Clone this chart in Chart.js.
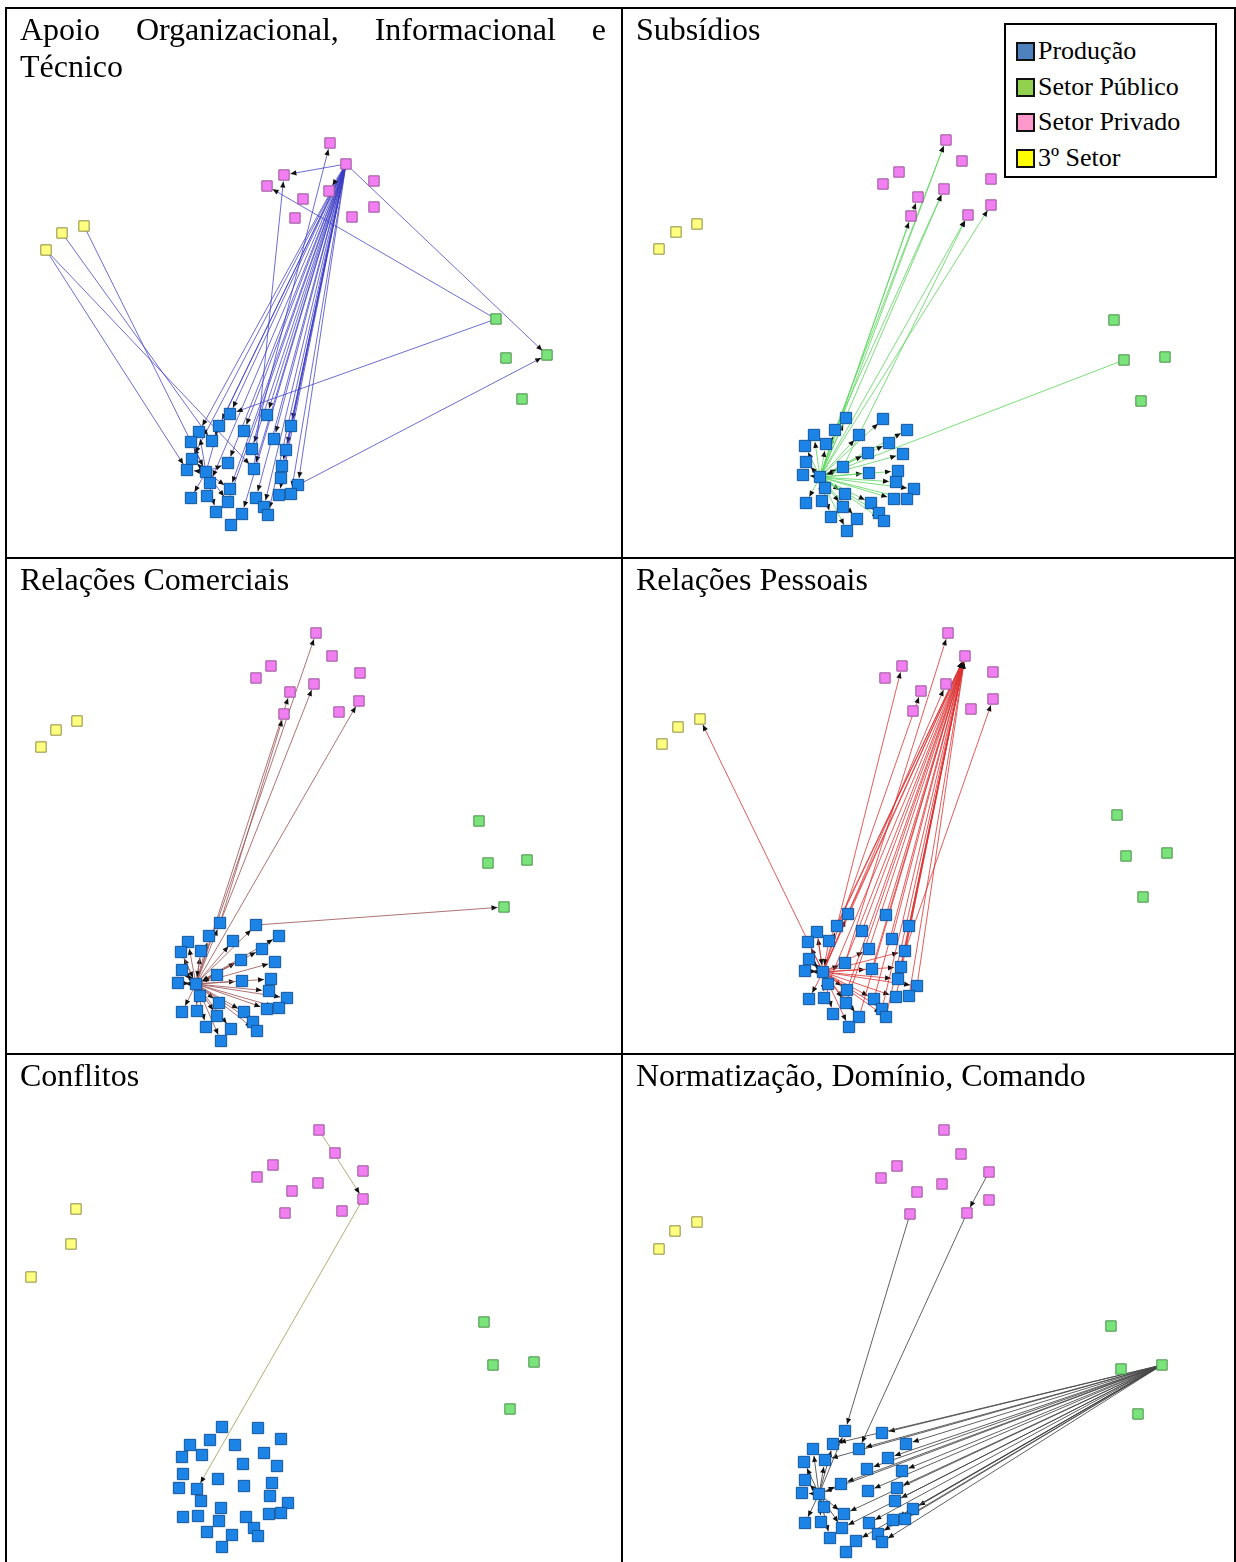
<!DOCTYPE html>
<html lang="pt">
<head>
<meta charset="UTF-8">
<title>Redes por tipo de relação</title>
<script src="https://cdn.jsdelivr.net/npm/chart.js"></script>
<style>
  body { margin: 0; background: #fff; font-family: 'Liberation Serif', 'Times New Roman', serif; }
  #pagina { position: relative; width: 1236px; height: 1562px; overflow: hidden; }
  .linha { position: absolute; background: #000; z-index: 3; }
  .celula { position: absolute; }
  .celula canvas { position: absolute; left: 0; top: 0; }
  .titulo {
    position: absolute; left: 13px; right: 15px; top: 2px; z-index: 2;
    font-size: 32px; line-height: 37px; color: #000; text-align: justify;
  }
  #legenda {
    position: absolute; left: 1004px; top: 23px; width: 209px; height: 151px;
    border: 2px solid #000; background: #fff; z-index: 4; font-size: 26px;
  }
  #legenda .item { position: absolute; left: 10px; height: 30px; display: flex; align-items: center; }
  #legenda .cor { width: 15px; height: 15px; border: 2px solid #111; margin-right: 3px; }
</style>
</head>
<body>
<div id="pagina">
  <div class="linha" style="left:5px;top:7px;width:1231px;height:2px"></div>
  <div class="linha" style="left:5px;top:7px;width:2px;height:1555px"></div>
  <div class="linha" style="left:621px;top:7px;width:2px;height:1555px"></div>
  <div class="linha" style="left:1234px;top:7px;width:2px;height:1555px"></div>
  <div class="linha" style="left:5px;top:557px;width:1231px;height:2px"></div>
  <div class="linha" style="left:5px;top:1053px;width:1231px;height:2px"></div>

  <div class="celula" style="left:7px;top:9px;width:614px;height:548px">
    <div class="titulo">Apoio Organizacional, Informacional e Técnico</div>
    <canvas id="g1" width="614" height="548"></canvas>
  </div>
  <div class="celula" style="left:623px;top:9px;width:611px;height:548px">
    <div class="titulo">Subsídios</div>
    <canvas id="g2" width="611" height="548"></canvas>
  </div>
  <div class="celula" style="left:7px;top:559px;width:614px;height:494px">
    <div class="titulo">Relações Comerciais</div>
    <canvas id="g3" width="614" height="494"></canvas>
  </div>
  <div class="celula" style="left:623px;top:559px;width:611px;height:494px">
    <div class="titulo">Relações Pessoais</div>
    <canvas id="g4" width="611" height="494"></canvas>
  </div>
  <div class="celula" style="left:7px;top:1055px;width:614px;height:507px">
    <div class="titulo">Conflitos</div>
    <canvas id="g5" width="614" height="507"></canvas>
  </div>
  <div class="celula" style="left:623px;top:1055px;width:611px;height:507px">
    <div class="titulo">Normatização, Domínio, Comando</div>
    <canvas id="g6" width="611" height="507"></canvas>
  </div>

  <div id="legenda">
    <div class="item" style="top:11px"><span class="cor" style="background:#4f81bd"></span>Produção</div>
    <div class="item" style="top:47px"><span class="cor" style="background:#92d050"></span>Setor Público</div>
    <div class="item" style="top:82px"><span class="cor" style="background:#ff99cc"></span>Setor Privado</div>
    <div class="item" style="top:118px"><span class="cor" style="background:#ffff00"></span>3º Setor</div>
  </div>
</div>

<script>
// posições dos nós (coordenadas da página)
// --- Apoio Organizacional, Informacional e Técnico ---
const apoioProducao = [[230,414],[267,415],[199,432],[219,426],[291,426],[244,431],[191,442],[212,441],[274,439],[252,449],[286,450],[192,459],[228,463],[187,470],[206,472],[254,469],[282,466],[281,478],[210,483],[230,489],[298,485],[191,498],[207,496],[228,502],[256,498],[279,495],[291,494],[264,507],[216,512],[242,514],[268,515],[231,525]];
const apoioPrivado = [[330,143],[346,164],[284,175],[267,186],[374,181],[303,199],[329,191],[295,218],[352,217],[374,207]];
const apoioTerceiro = [[46,250],[62,233],[84,226]];
const apoioPublico = [[496,319],[506,358],[547,355],[522,399]];
const apoioArestas = [
  ['r1', 'p0 p1 p2 p3 p4 p5 p7 p8 p9 p10 p11 p12 p15 p16 p17 p18 p19 p20 p23 p24 p25 p26 p27 p29 p30'],
  ['p14', 'p2 p3 p6 p11 p12 p13 p18 p19 p21 p22 p23 p28'],
  ['p9', 'r0'], ['p15', 'r2'], ['r1', 'r2 r6 g2'], ['g0', 'r3 p0'],
  ['p20', 'g2'], ['y0', 'p13 p15'], ['y1', 'p7'], ['y2', 'p14']
];

// --- Subsídios ---
const subsidiosProducao = [[846,418],[883,419],[814,435],[835,430],[907,430],[805,446],[826,444],[859,435],[889,443],[868,453],[903,454],[806,462],[843,467],[803,475],[820,477],[869,473],[898,471],[896,482],[825,488],[845,494],[914,489],[806,503],[822,501],[843,507],[871,503],[894,499],[907,499],[879,513],[831,517],[857,519],[884,521],[847,531]];
const subsidiosPrivado = [[946,140],[962,161],[899,172],[883,184],[991,179],[918,197],[944,189],[911,216],[968,215],[991,205]];
const subsidiosTerceiro = [[659,249],[676,232],[697,224]];
const subsidiosPublico = [[1114,320],[1124,360],[1165,357],[1141,401]];
const subsidiosArestas = [
  ['p14', 'p0 p1 p2 p3 p4 p5 p6 p7 p8 p9 p10 p11 p12 p13 p15 p16 p17 p18 p19 p20 p21 p22 p23 p24 p25 p26 p27 p28 p29 p30 p31'],
  ['p14', 'r0 r5 r6 r7 r8 r9'], ['p3', 'r0 r6'], ['p12', 'r8'], ['g1', 'p14']
];

// --- Relações Comerciais ---
const comerciaisProducao = [[220,923],[256,925],[188,942],[209,936],[279,936],[181,952],[201,951],[233,941],[262,949],[241,960],[275,962],[182,970],[217,975],[178,983],[196,984],[242,981],[271,979],[269,991],[200,996],[219,1003],[287,998],[182,1012],[197,1011],[217,1016],[244,1012],[267,1009],[279,1008],[253,1022],[206,1027],[231,1029],[257,1031],[221,1041]];
const comerciaisPrivado = [[316,633],[332,656],[271,666],[256,678],[360,673],[290,692],[314,684],[284,714],[339,712],[359,701]];
const comerciaisTerceiro = [[41,747],[56,730],[77,721]];
const comerciaisPublico = [[479,821],[488,863],[527,860],[504,907]];
const comerciaisArestas = [
  ['p14', 'p0 p1 p2 p3 p4 p5 p6 p7 p8 p9 p10 p11 p12 p13 p15 p16 p17 p18 p19 p20 p21 p22 p23 p24 p25 p26 p27 p28 p29 p30 p31'],
  ['p5 p6 p9 p11 p12 p13 p18 p22', 'p14'],
  ['p14', 'r0 r5 r9'], ['p0', 'r6 r7'], ['p1', 'g3']
];

// --- Relações Pessoais ---
const pessoaisProducao = [[848,914],[886,915],[817,932],[837,926],[909,926],[808,942],[829,941],[862,931],[892,939],[869,949],[905,951],[809,959],[845,963],[805,971],[823,972],[872,969],[901,967],[898,979],[828,984],[847,990],[917,986],[809,999],[824,998],[846,1003],[874,999],[896,997],[909,996],[882,1009],[833,1014],[859,1017],[886,1017],[849,1027]];
const pessoaisPrivado = [[948,633],[965,656],[902,666],[885,678],[993,672],[921,691],[946,684],[913,711],[971,709],[993,699]];
const pessoaisTerceiro = [[662,744],[678,727],[700,719]];
const pessoaisPublico = [[1117,815],[1126,856],[1167,853],[1143,897]];
const pessoaisArestas = [
  ['p14', 'p0 p2 p3 p5 p9 p10 p11 p12 p13 p15 p16 p17 p18 p19 p20 p21 p22 p23 p24 p25 p27 p28 p29 p30 p31'],
  ['p0 p1 p3 p4 p6 p7 p8 p9 p10 p12 p14 p15 p16 p17 p18 p19 p20 p23 p24 p25 p26 p27 p29 p30', 'r1'],
  ['p2 p6 p11 p13 p18', 'p14'],
  ['p12', 'r0'], ['p3', 'r2'], ['p14', 'r5 r6 y2'], ['p10', 'r9']
];

// --- Conflitos ---
const conflitosProducao = [[222,1427],[258,1428],[190,1445],[210,1440],[281,1439],[182,1457],[202,1455],[235,1445],[264,1453],[243,1464],[277,1466],[183,1474],[218,1479],[179,1488],[197,1489],[244,1486],[272,1483],[270,1496],[201,1501],[221,1508],[288,1503],[183,1517],[198,1516],[219,1521],[246,1517],[269,1514],[281,1513],[254,1528],[207,1532],[232,1535],[258,1536],[222,1547]];
const conflitosPrivado = [[319,1130],[335,1153],[273,1165],[257,1177],[363,1171],[292,1191],[318,1183],[285,1213],[342,1211],[363,1199]];
const conflitosTerceiro = [[31,1277],[71,1244],[76,1209]];
const conflitosPublico = [[484,1322],[493,1365],[534,1362],[510,1409]];
const conflitosArestas = [['r0', 'r9'], ['r9', 'p14']];

// --- Normatização, Domínio, Comando ---
const normasProducao = [[845,1431],[882,1433],[813,1449],[833,1444],[906,1444],[804,1462],[825,1460],[859,1449],[888,1458],[867,1469],[902,1471],[805,1480],[841,1484],[802,1493],[819,1494],[868,1491],[897,1488],[895,1501],[824,1507],[844,1514],[913,1509],[805,1523],[821,1522],[842,1528],[869,1523],[893,1520],[905,1519],[878,1534],[830,1538],[856,1541],[882,1542],[846,1552]];
const normasPrivado = [[944,1130],[961,1154],[897,1166],[881,1178],[989,1172],[917,1192],[942,1184],[910,1214],[967,1213],[989,1200]];
const normasTerceiro = [[659,1249],[675,1231],[697,1222]];
const normasPublico = [[1111,1326],[1121,1369],[1162,1365],[1138,1414]];
const normasArestas = [
  ['g2', 'p1 p3 p4 p6 p7 p8 p9 p10 p12 p14 p15 p16 p17 p19 p20 p23 p24 p25 p26 p27 p29 p30'],
  ['p14', 'p0 p2 p3 p5 p6 p11 p12 p13 p18 p19 p21 p22 p23 p28'],
  ['r7', 'p0'], ['r4', 'r8'], ['r8', 'p7']
];

const paineis = [
  { id: 'g1', x: [7, 621], y: [9, 557], producao: apoioProducao, privado: apoioPrivado, terceiro: apoioTerceiro, publico: apoioPublico, arestas: apoioArestas, cor: 'rgba(60,60,195,0.75)' },
  { id: 'g2', x: [623, 1234], y: [9, 557], producao: subsidiosProducao, privado: subsidiosPrivado, terceiro: subsidiosTerceiro, publico: subsidiosPublico, arestas: subsidiosArestas, cor: 'rgba(100,215,100,0.85)' },
  { id: 'g3', x: [7, 621], y: [559, 1053], producao: comerciaisProducao, privado: comerciaisPrivado, terceiro: comerciaisTerceiro, publico: comerciaisPublico, arestas: comerciaisArestas, cor: 'rgba(160,90,90,0.85)' },
  { id: 'g4', x: [623, 1234], y: [559, 1053], producao: pessoaisProducao, privado: pessoaisPrivado, terceiro: pessoaisTerceiro, publico: pessoaisPublico, arestas: pessoaisArestas, cor: 'rgba(220,50,50,0.8)' },
  { id: 'g5', x: [7, 621], y: [1055, 1562], producao: conflitosProducao, privado: conflitosPrivado, terceiro: conflitosTerceiro, publico: conflitosPublico, arestas: conflitosArestas, cor: 'rgba(175,170,110,0.95)' },
  { id: 'g6', x: [623, 1234], y: [1055, 1562], producao: normasProducao, privado: normasPrivado, terceiro: normasTerceiro, publico: normasPublico, arestas: normasArestas, cor: 'rgba(70,70,70,0.85)' }
];

const pontos = arr => arr.map(([x, y]) => ({ x, y }));

function criarPainel(p) {
  const grupos = { p: p.producao, r: p.privado, y: p.terceiro, g: p.publico };
  const no = id => grupos[id[0]][+id.slice(1)];

  // arestas com setas, desenhadas pelas escalas do próprio gráfico
  const arestasPlugin = {
    id: 'arestas',
    beforeDatasetsDraw(chart) {
      const { ctx, scales: { x, y } } = chart;
      ctx.save();
      ctx.lineWidth = 1;
      p.arestas.forEach(([origens, destinos]) => {
        origens.split(' ').forEach(a => {
          destinos.split(' ').forEach(b => {
            const [ax, ay] = no(a), [bx, by] = no(b);
            const x1 = x.getPixelForValue(ax), y1 = y.getPixelForValue(ay);
            const x2 = x.getPixelForValue(bx), y2 = y.getPixelForValue(by);
            const d = Math.hypot(x2 - x1, y2 - y1) || 1;
            const ux = (x2 - x1) / d, uy = (y2 - y1) / d;
            const folga = b[0] === 'p' ? 7 : 6.5;
            const ex = x2 - ux * folga, ey = y2 - uy * folga;
            ctx.strokeStyle = p.cor;
            ctx.beginPath();
            ctx.moveTo(x1, y1);
            ctx.lineTo(ex, ey);
            ctx.stroke();
            // ponta da seta
            ctx.fillStyle = '#111';
            ctx.beginPath();
            ctx.moveTo(ex, ey);
            ctx.lineTo(ex - ux * 6 - uy * 2.6, ey - uy * 6 + ux * 2.6);
            ctx.lineTo(ex - ux * 6 + uy * 2.6, ey - uy * 6 - ux * 2.6);
            ctx.closePath();
            ctx.fill();
          });
        });
      });
      ctx.restore();
    }
  };

  new Chart(document.getElementById(p.id), {
    type: 'scatter',
    data: {
      datasets: [
        { label: 'Setor Privado', data: pontos(p.privado), backgroundColor: '#f27ff2', borderColor: '#9a569a', pointRadius: 7.3 },
        { label: '3º Setor', data: pontos(p.terceiro), backgroundColor: '#ffff80', borderColor: '#8c8c40', pointRadius: 7.3 },
        { label: 'Setor Público', data: pontos(p.publico), backgroundColor: '#7be37b', borderColor: '#4a904a', pointRadius: 7.3 },
        { label: 'Produção', data: pontos(p.producao), backgroundColor: '#1c84e6', borderColor: '#135599', pointRadius: 8 }
      ]
    },
    options: {
      responsive: false,
      animation: false,
      layout: { padding: 0, autoPadding: false },
      elements: { point: { pointStyle: 'rect', borderWidth: 1, hoverRadius: 8 } },
      scales: {
        x: { type: 'linear', min: p.x[0], max: p.x[1], display: false },
        y: { type: 'linear', min: p.y[0], max: p.y[1], reverse: true, display: false }
      },
      plugins: { legend: { display: false }, tooltip: { enabled: false } }
    },
    plugins: [arestasPlugin]
  });
}

paineis.forEach(criarPainel);
</script>
</body>
</html>
